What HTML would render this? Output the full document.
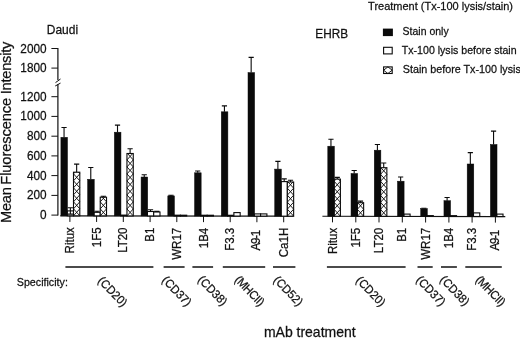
<!DOCTYPE html>
<html><head><meta charset="utf-8"><title>Figure</title>
<style>
html,body{margin:0;padding:0;background:#fff;}
body{width:520px;height:338px;overflow:hidden;}
svg{display:block;font-family:"Liberation Sans",Arial,sans-serif;}
text{fill:#111;stroke:#111;stroke-width:0.25;}
.ax{stroke:#111;stroke-width:1.2;fill:none;}
.tk{stroke:#111;stroke-width:1;fill:none;}
.eb{stroke:#0a0a0a;stroke-width:1.1;fill:none;}
.bk{fill:#0a0a0a;stroke:#0a0a0a;stroke-width:0.5;}
.op{fill:#fff;stroke:#0a0a0a;stroke-width:1.1;}
.hl{stroke:#111;stroke-width:0.95;fill:none;}
.gl{stroke:#111;stroke-width:1.4;fill:none;}
</style></head><body>
<svg width="520" height="338" viewBox="0 0 520 338">
<rect width="520" height="338" fill="#fff"/>

<path class="ax" d="M57.9 48V80M57.9 84.3V215.6"/>
<path class="tk" d="M55.5 82.6L60.5 79M55.2 86L60.5 83.1"/>
<path class="tk" d="M51.4 215.1H57.9"/>
<text transform="translate(46.6,219.1) scale(0.95,1)" font-size="12.42" text-anchor="end">0</text>
<path class="tk" d="M51.4 195.4H57.9"/>
<text transform="translate(46.6,199.4) scale(0.95,1)" font-size="12.42" text-anchor="end">200</text>
<path class="tk" d="M51.4 175.6H57.9"/>
<text transform="translate(46.6,179.6) scale(0.95,1)" font-size="12.42" text-anchor="end">400</text>
<path class="tk" d="M51.4 155.9H57.9"/>
<text transform="translate(46.6,159.9) scale(0.95,1)" font-size="12.42" text-anchor="end">600</text>
<path class="tk" d="M51.4 136.2H57.9"/>
<text transform="translate(46.6,140.2) scale(0.95,1)" font-size="12.42" text-anchor="end">800</text>
<path class="tk" d="M51.4 116.4H57.9"/>
<text transform="translate(46.6,120.4) scale(0.95,1)" font-size="12.42" text-anchor="end">1000</text>
<path class="tk" d="M51.4 96.7H57.9"/>
<text transform="translate(46.6,100.7) scale(0.95,1)" font-size="12.42" text-anchor="end">1200</text>
<path class="tk" d="M51.4 68.1H57.9"/>
<text transform="translate(46.6,72.1) scale(0.95,1)" font-size="12.42" text-anchor="end">1800</text>
<path class="tk" d="M51.4 48.5H57.9"/>
<text transform="translate(46.6,52.5) scale(0.95,1)" font-size="12.42" text-anchor="end">2000</text>
<text transform="translate(11.0,222.9) rotate(-90) scale(0.987,1)" font-size="14.84" word-spacing="-2.53"><tspan letter-spacing="-0.3">Mean</tspan> <tspan dx="1.2" letter-spacing="-0.1">Fluorescence</tspan> <tspan dx="2.1" letter-spacing="-0.22">Intensity</tspan></text>
<path class="ax" d="M60.3 215.80L293.6 216.18M322.4 216.23L505.3 216.53"/>
<path class="tk" d="M69.9 215.82V221.92"/>
<rect class="op" x="67.20" y="210.90" width="6.3" height="4.91"/>
<path class="eb" d="M70.35 210.90V207.70M67.75 207.70H72.95"/>
<path class="eb" d="M70.35 210.90V214.10M67.75 214.10H72.95"/>
<rect class="op" x="73.50" y="172.20" width="6.3" height="43.62"/>
<path class="hl" d="M73.50 215.82L79.80 208.82M79.80 215.82L73.50 208.82M73.50 208.82L79.80 201.82M79.80 208.82L73.50 201.82M73.50 201.82L79.80 194.82M79.80 201.82L73.50 194.82M73.50 194.82L79.80 187.82M79.80 194.82L73.50 187.82M73.50 187.82L79.80 180.82M79.80 187.82L73.50 180.82M73.50 180.82L79.80 173.82M79.80 180.82L73.50 173.82M73.50 173.82L74.96 172.20M79.80 173.82L78.34 172.20"/>
<path class="eb" d="M76.65 172.20V164.10M74.05 164.10H79.25"/>
<rect class="bk" x="60.90" y="137.30" width="6.6" height="78.50"/>
<path class="eb" d="M64.05 137.30V127.50M61.45 127.50H66.65"/>
<text transform="translate(74.0,227.2) rotate(-90) scale(0.95,1)" font-size="12.11" text-anchor="end">Ritux</text>
<path class="tk" d="M96.6 215.86V221.96"/>
<rect class="op" x="93.93" y="212.30" width="6.3" height="3.56"/>
<path class="eb" d="M97.08 212.30V211.20M94.48 211.20H99.68"/>
<rect class="op" x="100.23" y="197.20" width="6.3" height="18.67"/>
<path class="hl" d="M100.23 215.87L106.53 208.87M106.53 215.87L100.23 208.87M100.23 208.87L106.53 201.87M106.53 208.87L100.23 201.87M100.23 201.87L104.43 197.20M106.53 201.87L102.33 197.20"/>
<path class="eb" d="M103.38 197.20V196.20M100.78 196.20H105.98"/>
<rect class="bk" x="87.63" y="179.30" width="6.6" height="36.55"/>
<path class="eb" d="M90.78 179.30V167.50M88.18 167.50H93.38"/>
<text transform="translate(100.7,227.4) rotate(-90) scale(0.95,1)" font-size="12.11" text-anchor="end">1F5</text>
<path class="tk" d="M123.3 215.90V222.00"/>
<rect class="op" x="120.66" y="215.10" width="6.3" height="0.80"/>
<rect class="op" x="126.96" y="153.50" width="6.3" height="62.41"/>
<path class="hl" d="M126.96 215.91L133.26 208.91M133.26 215.91L126.96 208.91M126.96 208.91L133.26 201.91M133.26 208.91L126.96 201.91M126.96 201.91L133.26 194.91M133.26 201.91L126.96 194.91M126.96 194.91L133.26 187.91M133.26 194.91L126.96 187.91M126.96 187.91L133.26 180.91M133.26 187.91L126.96 180.91M126.96 180.91L133.26 173.91M133.26 180.91L126.96 173.91M126.96 173.91L133.26 166.91M133.26 173.91L126.96 166.91M126.96 166.91L133.26 159.91M133.26 166.91L126.96 159.91M126.96 159.91L132.73 153.50M133.26 159.91L127.49 153.50"/>
<path class="eb" d="M130.11 153.50V148.70M127.51 148.70H132.71"/>
<rect class="bk" x="114.36" y="132.20" width="6.6" height="83.69"/>
<path class="eb" d="M117.51 132.20V125.10M114.91 125.10H120.11"/>
<text transform="translate(127.4,227.5) rotate(-90) scale(0.95,1)" font-size="12.11" text-anchor="end">LT20</text>
<path class="tk" d="M150.1 215.95V222.05"/>
<rect class="op" x="147.39" y="211.50" width="6.3" height="4.44"/>
<path class="eb" d="M150.54 211.50V209.80M147.94 209.80H153.14"/>
<rect class="op" x="153.69" y="212.00" width="6.3" height="3.95"/>
<path class="eb" d="M156.84 212.00V211.40M154.24 211.40H159.44"/>
<rect class="bk" x="141.09" y="177.00" width="6.6" height="38.93"/>
<path class="eb" d="M144.24 177.00V174.70M141.64 174.70H146.84"/>
<text transform="translate(154.2,227.7) rotate(-90) scale(0.95,1)" font-size="12.11" text-anchor="end">B1</text>
<path class="tk" d="M176.8 215.99V222.09"/>
<rect class="op" x="174.12" y="215.19" width="6.3" height="0.80"/>
<rect class="op" x="180.42" y="215.20" width="6.3" height="0.80"/>
<rect class="bk" x="167.82" y="195.90" width="6.6" height="20.08"/>
<path class="eb" d="M170.97 195.90V195.20M168.37 195.20H173.57"/>
<text transform="translate(180.9,227.8) rotate(-90) scale(0.95,1)" font-size="12.11" text-anchor="end">WR17</text>
<path class="tk" d="M203.5 216.04V222.14"/>
<rect class="op" x="200.85" y="215.23" width="6.3" height="0.80"/>
<rect class="op" x="207.15" y="215.24" width="6.3" height="0.80"/>
<rect class="bk" x="194.55" y="172.80" width="6.6" height="43.22"/>
<path class="eb" d="M197.70 172.80V171.00M195.10 171.00H200.30"/>
<text transform="translate(207.6,227.8) rotate(-90) scale(0.95,1)" font-size="12.11" text-anchor="end">1B4</text>
<path class="tk" d="M230.2 216.08V222.18"/>
<rect class="op" x="227.58" y="215.28" width="6.3" height="0.80"/>
<rect class="op" x="233.88" y="212.60" width="6.3" height="3.49"/>
<rect class="bk" x="221.28" y="111.80" width="6.6" height="104.27"/>
<path class="eb" d="M224.43 111.80V105.90M221.83 105.90H227.03"/>
<text transform="translate(234.3,227.8) rotate(-90) scale(0.95,1)" font-size="12.11" text-anchor="end">F3.3</text>
<path class="tk" d="M256.9 216.12V222.22"/>
<rect class="op" x="254.31" y="213.90" width="6.3" height="2.22"/>
<rect class="op" x="260.61" y="213.90" width="6.3" height="2.23"/>
<rect class="bk" x="248.01" y="72.60" width="6.6" height="143.51"/>
<path class="eb" d="M251.16 72.60V57.40M248.56 57.40H253.76"/>
<text transform="translate(260.4,229.8) rotate(-90) scale(0.95,1)" font-size="12.11" text-anchor="end" textLength="21.7" lengthAdjust="spacing">A9-1</text>
<path class="tk" d="M283.7 216.17V222.27"/>
<rect class="op" x="281.04" y="181.60" width="6.3" height="34.56"/>
<path class="eb" d="M284.19 181.60V178.90M281.59 178.90H286.79"/>
<rect class="op" x="287.34" y="182.00" width="6.3" height="34.17"/>
<path class="hl" d="M287.34 216.17L293.64 209.17M293.64 216.17L287.34 209.17M287.34 209.17L293.64 202.17M293.64 209.17L287.34 202.17M287.34 202.17L293.64 195.17M293.64 202.17L287.34 195.17M287.34 195.17L293.64 188.17M293.64 195.17L287.34 188.17M287.34 188.17L292.90 182.00M293.64 188.17L288.08 182.00"/>
<path class="eb" d="M290.49 182.00V180.30M287.89 180.30H293.09"/>
<rect class="bk" x="274.74" y="169.10" width="6.6" height="47.05"/>
<path class="eb" d="M277.89 169.10V161.40M275.29 161.40H280.49"/>
<text transform="translate(287.8,227.8) rotate(-90) scale(0.95,1)" font-size="12.11" text-anchor="end">Ca1H</text>
<path class="tk" d="M332.5 216.25V222.35"/>
<rect class="op" x="334.10" y="179.10" width="6.3" height="37.15"/>
<path class="hl" d="M334.10 216.25L340.40 209.25M340.40 216.25L334.10 209.25M334.10 209.25L340.40 202.25M340.40 209.25L334.10 202.25M334.10 202.25L340.40 195.25M340.40 202.25L334.10 195.25M334.10 195.25L340.40 188.25M340.40 195.25L334.10 188.25M334.10 188.25L340.40 181.25M340.40 188.25L334.10 181.25M334.10 181.25L336.04 179.10M340.40 181.25L338.46 179.10"/>
<path class="eb" d="M337.25 179.10V177.40M334.65 177.40H339.85"/>
<rect class="bk" x="327.80" y="146.20" width="6.6" height="70.04"/>
<path class="eb" d="M330.95 146.20V139.20M328.35 139.20H333.55"/>
<text transform="translate(336.6,227.8) rotate(-90) scale(0.95,1)" font-size="12.11" text-anchor="end">Ritux</text>
<path class="tk" d="M355.8 216.29V222.39"/>
<rect class="op" x="357.33" y="202.70" width="6.3" height="13.59"/>
<path class="hl" d="M357.33 216.29L363.63 209.29M363.63 216.29L357.33 209.29M357.33 209.29L363.26 202.70M363.63 209.29L357.70 202.70"/>
<path class="eb" d="M360.48 202.70V201.10M357.88 201.10H363.08"/>
<rect class="bk" x="351.03" y="173.50" width="6.6" height="42.78"/>
<path class="eb" d="M354.18 173.50V170.50M351.58 170.50H356.78"/>
<text transform="translate(359.9,227.8) rotate(-90) scale(0.95,1)" font-size="12.11" text-anchor="end">1F5</text>
<path class="tk" d="M379.0 216.33V222.43"/>
<rect class="op" x="380.56" y="167.70" width="6.3" height="48.63"/>
<path class="hl" d="M380.56 216.33L386.86 209.33M386.86 216.33L380.56 209.33M380.56 209.33L386.86 202.33M386.86 209.33L380.56 202.33M380.56 202.33L386.86 195.33M386.86 202.33L380.56 195.33M380.56 195.33L386.86 188.33M386.86 195.33L380.56 188.33M380.56 188.33L386.86 181.33M386.86 188.33L380.56 181.33M380.56 181.33L386.86 174.33M386.86 181.33L380.56 174.33M380.56 174.33L386.53 167.70M386.86 174.33L380.89 167.70"/>
<path class="eb" d="M383.71 167.70V163.00M381.11 163.00H386.31"/>
<rect class="bk" x="374.26" y="150.20" width="6.6" height="66.12"/>
<path class="eb" d="M377.41 150.20V144.50M374.81 144.50H380.01"/>
<text transform="translate(383.1,227.8) rotate(-90) scale(0.95,1)" font-size="12.11" text-anchor="end">LT20</text>
<path class="tk" d="M402.3 216.36V222.46"/>
<rect class="op" x="403.79" y="214.10" width="6.3" height="2.27"/>
<rect class="bk" x="397.49" y="181.20" width="6.6" height="35.16"/>
<path class="eb" d="M400.64 181.20V177.00M398.04 177.00H403.24"/>
<text transform="translate(406.4,227.8) rotate(-90) scale(0.95,1)" font-size="12.11" text-anchor="end">B1</text>
<path class="tk" d="M425.6 216.40V222.50"/>
<rect class="op" x="427.02" y="215.61" width="6.3" height="0.80"/>
<rect class="bk" x="420.72" y="208.70" width="6.6" height="7.69"/>
<path class="eb" d="M423.87 208.70V208.20M421.27 208.20H426.47"/>
<text transform="translate(429.7,227.8) rotate(-90) scale(0.95,1)" font-size="12.11" text-anchor="end">WR17</text>
<path class="tk" d="M448.9 216.44V222.54"/>
<rect class="op" x="450.25" y="215.64" width="6.3" height="0.80"/>
<rect class="bk" x="443.95" y="200.70" width="6.6" height="15.73"/>
<path class="eb" d="M447.10 200.70V197.50M444.50 197.50H449.70"/>
<text transform="translate(453.0,227.8) rotate(-90) scale(0.95,1)" font-size="12.11" text-anchor="end">1B4</text>
<path class="tk" d="M472.1 216.48V222.58"/>
<rect class="op" x="473.48" y="212.90" width="6.3" height="3.58"/>
<rect class="bk" x="467.18" y="164.00" width="6.6" height="52.47"/>
<path class="eb" d="M470.33 164.00V152.60M467.73 152.60H472.93"/>
<text transform="translate(476.2,227.8) rotate(-90) scale(0.95,1)" font-size="12.11" text-anchor="end">F3.3</text>
<path class="tk" d="M495.4 216.52V222.62"/>
<rect class="op" x="496.71" y="214.10" width="6.3" height="2.42"/>
<rect class="bk" x="490.41" y="144.50" width="6.6" height="72.01"/>
<path class="eb" d="M493.56 144.50V131.10M490.96 131.10H496.16"/>
<text transform="translate(498.9,229.8) rotate(-90) scale(0.95,1)" font-size="12.11" text-anchor="end" textLength="21.7" lengthAdjust="spacing">A9-1</text>
<text transform="translate(46.8,34.2) scale(0.95,1)" font-size="12.63">Daudi</text>
<text transform="translate(315.3,38.4) scale(0.95,1)" font-size="12.42">EHRB</text>
<text transform="translate(368.1,9.9) scale(0.95,1)" font-size="11.58">Treatment (Tx-100 lysis/stain)</text>
<rect x="382.9" y="28.6" width="10" height="7.5" fill="#0a0a0a"/>
<rect class="op" x="383.6" y="47.3" width="8.6" height="6.6"/>
<rect class="op" x="383.6" y="66.9" width="8.6" height="6.6"/>
<path class="hl" d="M383.6 70.2L387.9 66.9L392.2 70.2L387.9 73.5Z"/>
<text transform="translate(402.6,35.2) scale(0.95,1)" font-size="11.05">Stain only</text>
<text transform="translate(401.8,54.2) scale(0.95,1)" font-size="11.16">Tx-100 lysis before stain</text>
<text transform="translate(402.8,73.1) scale(0.95,1)" font-size="11.32">Stain before Tx-100 lysis</text>
<text transform="translate(16.8,286.2) scale(0.95,1)" font-size="11.26">Specificity:</text>
<path class="gl" d="M65.4 267.0H153.4M163.6 267.0H184.6M192.4 267.0H213.1M222.8 267.0H265.2M273 267.0H295.4M326.9 267.0H405.6M417.5 267.0H432.7M441 267.0H456.9M465.3 267.0H501.8"/>
<text transform="translate(109.8,294.4) rotate(46) scale(0.95,1)" font-size="11.89" text-anchor="middle">(CD20)</text>
<text transform="translate(173.9,293.9) rotate(46) scale(0.95,1)" font-size="11.89" text-anchor="middle">(CD37)</text>
<text transform="translate(209.8,293.4) rotate(46) scale(0.95,1)" font-size="11.89" text-anchor="middle">(CD38)</text>
<text transform="translate(246.9,293.7) rotate(46) scale(0.95,1)" font-size="11.89" text-anchor="middle" textLength="38.9" lengthAdjust="spacing">(MHCII)</text>
<text transform="translate(285.4,293.7) rotate(46) scale(0.95,1)" font-size="11.89" text-anchor="middle">(CD52)</text>
<text transform="translate(367.9,294.1) rotate(46) scale(0.95,1)" font-size="11.89" text-anchor="middle">(CD20)</text>
<text transform="translate(428.0,293.6) rotate(46) scale(0.95,1)" font-size="11.89" text-anchor="middle">(CD37)</text>
<text transform="translate(451.9,293.4) rotate(46) scale(0.95,1)" font-size="11.89" text-anchor="middle">(CD38)</text>
<text transform="translate(487.8,293.7) rotate(46) scale(0.95,1)" font-size="11.89" text-anchor="middle" textLength="38.9" lengthAdjust="spacing">(MHCII)</text>
<text transform="translate(263.9,336.5) scale(0.95,1)" font-size="14.74">mAb treatment</text>
</svg></body></html>
